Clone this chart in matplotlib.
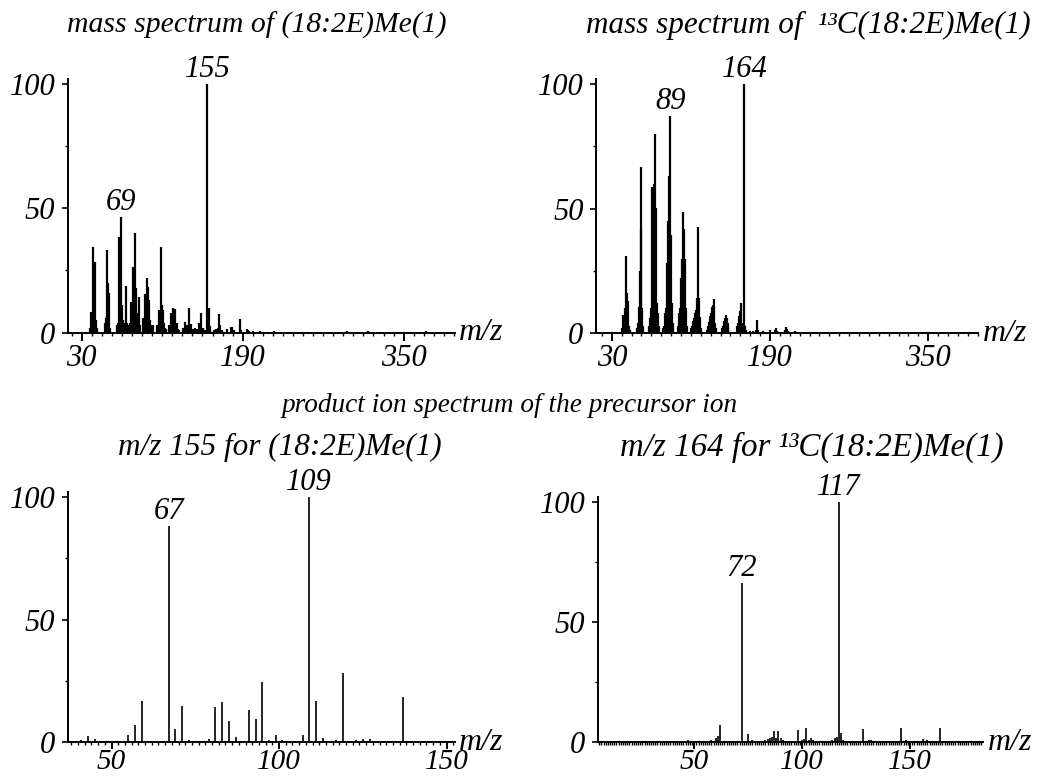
import matplotlib
matplotlib.use('Agg')
import matplotlib.pyplot as plt
from matplotlib.ticker import MultipleLocator, FixedLocator

plt.rcParams['font.family'] = ['Liberation Serif', 'DejaVu Serif']
plt.rcParams['font.style'] = 'italic'

# ---------------- data ----------------
# top-left: EI mass spectrum of (18:2E)Me(1)
tl_mz = [38, 39, 40, 41, 42, 43, 44, 45,
         53, 54, 55, 56, 57, 58,
         65, 66, 67, 68, 69, 70, 71, 72, 73, 74, 75,
         77, 78, 79, 80, 81, 82, 83, 84, 85, 86, 87, 88,
         91, 92, 93, 94, 95, 96, 97, 98, 99, 100, 101,
         105, 106, 107, 108, 109, 110, 111, 112, 113, 114,
         117, 118, 119, 120, 121, 122, 123, 124, 125, 126, 127,
         131, 133, 134, 135, 136, 137, 138, 139, 140, 141, 143,
         145, 147, 148, 149, 150, 151, 153, 155, 156, 157,
         161, 163, 165, 166, 167, 169, 174, 178, 179, 181, 187, 188, 194, 195, 196,
         200, 207, 209, 221, 235, 249, 263, 277, 294, 315, 327, 341, 355, 372, 383, 391]
tl_int = [2, 8.2, 2, 34.3, 5, 28.6, 5, 2,
          3.8, 6, 33.2, 19.9, 15.8, 2,
          3, 4, 38.6, 13, 46.6, 11, 5, 3, 4, 18.9, 4,
          3, 4, 12.5, 10, 26.5, 20, 40, 18, 8, 4, 14.5, 3,
          6, 4, 15.6, 8, 21.9, 18.5, 13, 5, 3, 2, 3,
          3, 3, 9, 5, 34.6, 11, 9, 4, 2, 1.5,
          3, 2, 7.8, 4, 9.8, 5, 9.5, 4, 4, 1.5, 1,
          2, 4.4, 2, 3, 2, 9.8, 2.5, 3.4, 1, 1.5, 2,
          1.5, 4, 2, 8, 2, 2, 1, 100, 10, 2.7,
          1, 1.5, 2, 7.4, 3, 1, 1.5, 2.3, 2.3, 1, 5.6, 1, 1.6, 1, 0.8,
          0.5, 0.6, 0.4, 0.5, 0.4, 0.3, 0.4, 0.3, 0.5, 0.8, 0.4, 0.3, 0.4, 0.8, 0.3, 0.4]
tl_labels = [69, 155]

# top-right: EI mass spectrum of 13C(18:2E)Me(1)
tr_mz = [40, 41, 42, 43, 44, 45, 46, 47, 48,
         55, 56, 57, 58, 59, 60, 61, 62,
         68, 69, 70, 71, 72, 73, 74, 75, 76, 77, 78,
         82, 83, 84, 85, 86, 87, 88, 89, 90, 91, 92,
         97, 98, 99, 100, 101, 102, 103, 104, 105, 106,
         110, 111, 112, 113, 114, 115, 116, 117, 118, 119, 120,
         126, 127, 128, 129, 130, 131, 132, 133, 134, 135,
         141, 142, 143, 144, 145, 146, 147, 148,
         157, 158, 159, 160, 161, 162, 163, 164, 165, 166,
         170, 173, 176, 177, 178, 183, 190, 195, 196, 197, 205, 206, 207, 208,
         215, 220, 230, 242, 257, 268, 281, 293, 313, 322, 336, 352, 363, 374, 381, 392]
tr_int = [2, 7.3, 3, 10, 31.1, 16.3, 13, 3, 1.5,
          2, 4, 10.7, 25, 66.8, 41.7, 10, 3,
          3, 6, 10, 58.6, 56, 60, 79.9, 50.1, 12, 8, 3,
          2, 3, 8, 10, 28, 45, 63, 87.2, 39.4, 12, 4,
          3, 8, 10, 22, 30, 48.5, 42, 30, 10, 3,
          2, 3, 5, 6, 8, 9.4, 14, 42.8, 14, 6.7, 2,
          1.5, 3, 4.5, 7, 8, 10.7, 11.4, 13.8, 4, 2,
          2, 3, 5, 6, 7.4, 6, 4, 2,
          3, 4, 7, 9.1, 12, 4, 1.5, 100, 3, 1.5,
          1, 1, 1.5, 5.3, 1.5, 0.8, 1.3, 1.5, 2.3, 1, 1.5, 2.4, 1.6, 1,
          0.8, 0.6, 0.5, 0.6, 0.5, 0.6, 0.5, 0.5, 0.4, 0.6, 0.5, 0.4, 0.5, 0.7, 0.6, 0.5]
tr_labels = [89, 164]

# bottom-left: product ion spectrum of m/z 155
bl_mz = [39, 41, 43, 45, 53, 55, 57, 59, 65, 67, 69, 71, 73, 79, 81, 83, 85, 87,
         91, 93, 95, 97, 99, 101, 105, 107, 109, 111, 113, 117, 119, 123, 125, 127, 135, 137]
bl_int = [0.5, 0.8, 2.3, 1.3, 0.5, 2.7, 6.9, 16.7, 0.5, 88.3, 5.2, 14.9, 0.8, 1.3, 14.1, 16.3, 8.7, 2,
          12.9, 9.6, 24.5, 0.8, 2.7, 1, 0.5, 2.9, 100, 16.9, 1.6, 0.8, 28.1, 0.8, 1.3, 1.2, 0.5, 18.5]
bl_labels = [67, 109]

# bottom-right: product ion spectrum of m/z 164
br_mz = [44, 47, 54, 58, 60, 61, 62, 65, 72, 75, 77, 81, 83, 84, 85, 86, 87, 88, 89, 90, 91, 93, 95,
         98, 100, 101, 102, 103, 104, 105, 107, 114, 115, 116, 117, 118, 119, 121, 128, 131, 132, 133,
         140, 142, 146, 148, 152, 156, 158, 164]
br_int = [0.5, 0.8, 0.6, 0.8, 1.5, 2.4, 7.1, 0.5, 66.1, 3.3, 0.8, 0.6, 0.8, 1.2, 1.8, 2, 4.6, 1.5, 4.7, 1.5, 0.8, 0.6, 0.5,
          5, 1, 1.2, 6, 1, 1.6, 0.8, 0.6, 1, 1.6, 1.9, 100, 3.9, 1, 0.5, 5.3, 0.8, 0.8, 0.6,
          0.6, 0.5, 6, 0.8, 0.6, 1.4, 0.8, 5.8]
br_labels = [72, 117]

# ---------------- figure ----------------
fig = plt.figure(figsize=(10.38, 7.8), dpi=100)

FS = 22
panels = [
    # rect, mz, int, labels, xlim, xmajor, xminor, lw, xlabel size, xpad, xticklen
    ([0.0652, 0.5735, 0.3731, 0.3253], tl_mz, tl_int, tl_labels, (16, 401), [30, 190, 350], 10, 1.6, 22, 2, 6),
    ([0.5742, 0.5727, 0.3683, 0.3260], tr_mz, tr_int, tr_labels, (14, 400.7), [30, 190, 350], 10, 1.6, 22, 2, 6),
    ([0.0652, 0.0487, 0.3731, 0.3202], bl_mz, bl_int, bl_labels, (36.9, 152.5), [50, 100, 150], 2, 1.2, 21, 0, 5),
    ([0.5758, 0.0487, 0.3715, 0.3144], br_mz, br_int, br_labels, (5.3, 183.9), [50, 100, 150], 1, 1.2, 21, 0, 5),
]

for rect, mz, inten, labels, xlim, xmaj, xmin, lw, xls, xpad, xlen in panels:
    ax = fig.add_axes(rect)
    ax.vlines(mz, 0, inten, color='black', lw=lw)
    ax.set_xlim(*xlim)
    ax.set_ylim(0, 102)
    for s in ('top', 'right'):
        ax.spines[s].set_visible(False)
    for s in ('left', 'bottom'):
        ax.spines[s].set_linewidth(1.4)
    ax.xaxis.set_major_locator(FixedLocator(xmaj))
    ax.xaxis.set_minor_locator(MultipleLocator(xmin))
    ax.yaxis.set_major_locator(FixedLocator([0, 50, 100]))
    ax.yaxis.set_minor_locator(FixedLocator([25, 75]))
    ax.tick_params(axis='x', which='major', direction='out', length=xlen, width=1.4, pad=xpad, labelsize=xls)
    ax.tick_params(axis='x', which='minor', direction='out', length=2.5, width=1.0)
    ax.tick_params(axis='y', which='major', direction='out', length=4, width=1.2, pad=5, labelsize=FS)
    ax.tick_params(axis='y', which='minor', direction='out', length=2.5, width=1.0)
    for lab in ax.get_xticklabels() + ax.get_yticklabels():
        lab.set_fontstyle('italic')
    for m in labels:
        h = inten[mz.index(m)]
        ax.annotate(str(m), (m, h), xytext=(0, 0), textcoords='offset points',
                    ha='center', va='bottom', fontsize=FS, style='italic',
                    annotation_clip=False)
    ax.annotate('m/z', xy=(1, 0), xycoords='axes fraction', xytext=(3, 0),
                textcoords='offset points', ha='left', va='center',
                fontsize=23, style='italic', annotation_clip=False)

fig.text(257 / 1038, 1 - 25 / 780, 'mass spectrum of (18:2E)Me(1)', ha='center', va='center',
         fontsize=21.4, style='italic')
fig.text(808 / 1038, 1 - 25 / 780, 'mass spectrum of  \u00b9\u00b3C(18:2E)Me(1)', ha='center', va='center',
         fontsize=22.4, style='italic')
fig.text(510 / 1038, 1 - 405 / 780, 'product ion spectrum of the precursor ion', ha='center', va='center',
         fontsize=19.6, style='italic')
fig.text(280 / 1038, 1 - 447 / 780, 'm/z 155 for (18:2E)Me(1)', ha='center', va='center',
         fontsize=22.5, style='italic')
fig.text(812 / 1038, 1 - 447 / 780, 'm/z 164 for \u00b9\u00b3C(18:2E)Me(1)', ha='center', va='center',
         fontsize=23.8, style='italic')

fig.savefig('out.png', dpi=100)
